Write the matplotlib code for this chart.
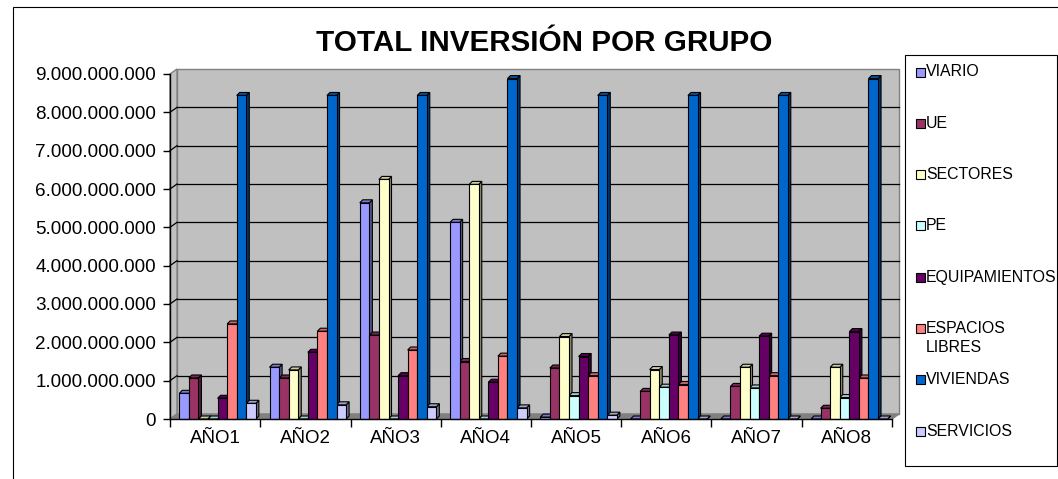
import matplotlib
matplotlib.use("Agg")
import matplotlib.pyplot as plt
from matplotlib.patches import Polygon, Rectangle

plt.rcParams['font.family'] = ['Liberation Sans', 'DejaVu Sans']

years = ['AÑO1', 'AÑO2', 'AÑO3', 'AÑO4', 'AÑO5', 'AÑO6', 'AÑO7', 'AÑO8']
groups = ['VIARIO', 'UE', 'SECTORES', 'PE', 'EQUIPAMIENTOS',
          'ESPACIOS LIBRES', 'VIVIENDAS', 'SERVICIOS']
colors = ['#9999FF', '#993366', '#FFFFCC', '#CCFFFF', '#660066',
          '#FF8080', '#0066CC', '#CCCCFF']

viario = [0.67e9, 1.35e9, 5.64e9, 5.13e9, 0.05e9, 0, 0, 0]
ue = [1.07e9, 1.07e9, 2.19e9, 1.50e9, 1.33e9, 0.72e9, 0.85e9, 0.28e9]
sectores = [0, 1.28e9, 6.25e9, 6.12e9, 2.15e9, 1.29e9, 1.35e9, 1.35e9]
pe = [0, 0, 0, 0, 0.61e9, 0.83e9, 0.81e9, 0.56e9]
equipamientos = [0.54e9, 1.74e9, 1.13e9, 0.96e9, 1.63e9, 2.19e9, 2.16e9, 2.28e9]
espacios_libres = [2.48e9, 2.29e9, 1.80e9, 1.64e9, 1.13e9, 0.90e9, 1.13e9, 1.07e9]
viviendas = [8.44e9, 8.44e9, 8.44e9, 8.88e9, 8.44e9, 8.44e9, 8.44e9, 8.88e9]
servicios = [0.41e9, 0.37e9, 0.32e9, 0.29e9, 0.10e9, 0, 0, 0]

series = [viario, ue, sectores, pe, equipamientos, espacios_libres, viviendas, servicios]


def shade(hex_color, f):
    r, g, b = matplotlib.colors.to_rgb(hex_color)
    return (r * f, g * f, b * f)


W, H = 1058, 479
fig = plt.figure(figsize=(W / 100, H / 100), dpi=100)

# front plane of the plot area, in pixels
L, R, T, B = 170, 892, 74, 419
ax = fig.add_axes([L / W, 1 - B / H, (R - L) / W, (B - T) / H])
ax.set_xlim(0, 8)
ax.set_ylim(0, 9e9)
ax.set_facecolor('none')

xu = 8 / (R - L)
yu = 9e9 / (B - T)
wdx, wdy = 7 * xu, 5 * yu      # wall depth
bdx, bdy = 3 * xu, 3 * yu      # bar depth

# walls and floor
ax.add_patch(Rectangle((wdx, wdy), 8, 9e9, fc='#C0C0C0', ec='#808080',
                       lw=1, zorder=0, clip_on=False))
ax.add_patch(Polygon([(0, 0), (wdx, wdy), (wdx, 9e9 + wdy), (0, 9e9)],
                     closed=True, fc='#C0C0C0', ec='#808080', lw=1,
                     zorder=0, clip_on=False))
ax.add_patch(Polygon([(0, 0), (8, 0), (8 + wdx, wdy), (wdx, wdy)],
                     closed=True, fc='#808080', ec='#808080', lw=1,
                     zorder=0.5, clip_on=False))
for v in range(1, 9):
    yv = v * 1e9
    ax.plot([wdx, 8 + wdx], [yv + wdy, yv + wdy], color='black', lw=0.9,
            zorder=0.6, clip_on=False)
    ax.plot([0, wdx], [yv, yv + wdy], color='black', lw=0.9,
            zorder=0.6, clip_on=False)

# bars
bw = 9.57 * xu
off = 9.3 * xu
for i, (vals, col) in enumerate(zip(series, colors)):
    xs = [k + off + i * bw for k in range(len(years))]
    ax.bar(xs, vals, width=bw, align='edge', color=col, edgecolor='black',
           linewidth=0.8, zorder=3, clip_on=False)
    for x0, v in zip(xs, vals):
        side = [(x0 + bw, 0), (x0 + bw + bdx, bdy), (x0 + bw + bdx, v + bdy), (x0 + bw, v)]
        top = [(x0, v), (x0 + bw, v), (x0 + bw + bdx, v + bdy), (x0 + bdx, v + bdy)]
        ax.add_patch(Polygon(side, closed=True, fc=shade(col, 0.55), ec='black',
                             lw=0.8, zorder=2, clip_on=False))
        ax.add_patch(Polygon(top, closed=True, fc=shade(col, 0.8), ec='black',
                             lw=0.8, zorder=2, clip_on=False))

# axes
for s in ['top', 'right']:
    ax.spines[s].set_visible(False)
ax.spines['left'].set_linewidth(1)
ax.spines['bottom'].set_linewidth(1)
ax.spines['left'].set_zorder(4)
ax.spines['bottom'].set_zorder(4)

yticks = [v * 1e9 for v in range(10)]
ax.set_yticks(yticks)
ax.set_yticklabels([f"{int(v):,}".replace(',', '.') for v in yticks], fontsize=13.6)
ax.tick_params(axis='y', direction='out', length=5, width=1, pad=5)

ax.set_xticks(range(9))
ax.set_xticklabels([''] * 9)
ax.set_xticks([k + 0.5 for k in range(8)], minor=True)
ax.set_xticklabels(years, minor=True, fontsize=13.5)
ax.tick_params(axis='x', which='major', direction='out', length=6, width=1)
ax.tick_params(axis='x', which='minor', length=0, pad=8)

# title
fig.text(544 / W, 1 - 43 / H, 'TOTAL INVERSIÓN POR GRUPO', fontsize=21.3,
         fontweight='bold', ha='center', va='center')

# legend
fig.add_artist(Rectangle((905 / W, 1 - 466 / H), 152 / W, 411 / H,
                         transform=fig.transFigure, fill=False,
                         ec='black', lw=0.8))
for i, (name, col) in enumerate(zip(groups, colors)):
    yc = 72 + i * 51.3
    fig.add_artist(Rectangle((916 / W, 1 - (yc + 4.5) / H), 9 / W, 9 / H,
                             transform=fig.transFigure, fc=col,
                             ec='black', lw=0.8))
    lines = name.split(' ') if len(name) > 13 else [name]
    for j, line in enumerate(lines):
        fig.text(926 / W, 1 - (yc + j * 18.7) / H, line, fontsize=11.4,
                 ha='left', va='center')

# chart area border
fig.add_artist(Rectangle((13 / W, -0.1), 1.2, 1.1 - 7 / H,
                         transform=fig.transFigure, fill=False,
                         ec='black', lw=0.8))

fig.savefig('out.png', dpi=100)
